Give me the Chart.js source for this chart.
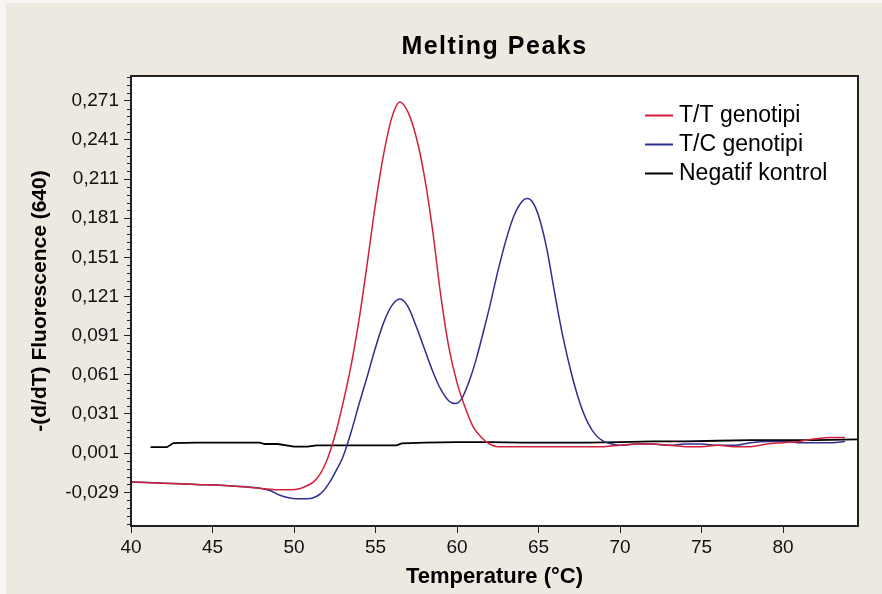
<!DOCTYPE html>
<html>
<head>
<meta charset="utf-8">
<title>Melting Peaks</title>
<script src="https://cdn.jsdelivr.net/npm/chart.js@4.4.1/dist/chart.umd.min.js"></script>
<style>
  html, body { margin: 0; padding: 0; background: #EDE8E0; }
  canvas { display: block; }
</style>
</head>
<body>
<canvas id="meltChart" width="882" height="594"></canvas>
<script>
// T/T genotipi (kırmızı)
const ttTemp = [40, 42, 44, 46, 48, 49, 49.8, 50.4, 50.8, 51.2, 51.6, 52.0, 52.5, 53.0, 53.5, 54.0, 54.5, 55.0, 55.5, 56.0,
  56.5, 57.0, 57.5, 58.0, 58.5, 59.0, 59.5, 60.0, 60.5, 61.0, 61.5, 62.0, 62.5, 63,
  65, 67, 69, 70, 71, 72, 73, 74, 75, 76, 77, 78, 79, 80, 81, 82, 83, 83.8];
const ttVal = [-0.021, -0.022, -0.023, -0.024, -0.026, -0.027, -0.027, -0.026, -0.024, -0.021, -0.015, -0.005, 0.014, 0.039, 0.068, 0.104, 0.147, 0.192, 0.230, 0.258,
  0.270, 0.262, 0.243, 0.213, 0.172, 0.122, 0.082, 0.055, 0.036, 0.021, 0.013, 0.008, 0.006, 0.006,
  0.006, 0.006, 0.006, 0.007, 0.008, 0.008, 0.007, 0.006, 0.006, 0.007, 0.006, 0.006, 0.008, 0.009, 0.010, 0.012, 0.013, 0.013];

// T/C genotipi (mavi)
const tcTemp = [40, 42, 44, 46, 48, 48.6, 49.1, 49.6, 50.2, 50.8, 51.4, 51.8, 52.2, 52.6, 53.0, 53.5, 54.0, 54.5, 55.0, 55.5,
  56.0, 56.5, 57.0, 57.5, 58.0, 58.5, 59.0, 59.5, 59.9, 60.3, 60.8, 61.2, 61.6, 62.0, 62.5, 63.0, 63.5, 64.0, 64.3, 64.6,
  65.0, 65.5, 66.0, 66.5, 67.0, 67.5, 68.0, 68.5, 69.0, 69.5, 70, 71, 72, 73, 74, 75, 76,
  77, 78, 79, 80, 81, 82, 83, 83.8];
const tcVal = [-0.021, -0.022, -0.023, -0.024, -0.026, -0.028, -0.031, -0.033, -0.034, -0.034, -0.032, -0.028, -0.021, -0.012, -0.002, 0.017, 0.039, 0.060, 0.082, 0.101,
  0.114, 0.119, 0.113, 0.098, 0.081, 0.064, 0.050, 0.041, 0.039, 0.043, 0.058, 0.074, 0.093, 0.113, 0.140, 0.164, 0.183, 0.194, 0.196, 0.194,
  0.183, 0.158, 0.123, 0.090, 0.063, 0.041, 0.025, 0.015, 0.010, 0.008, 0.007, 0.008, 0.008, 0.007, 0.008, 0.008, 0.007,
  0.007, 0.009, 0.010, 0.010, 0.009, 0.009, 0.009, 0.010];

// Negatif kontrol (siyah)
const ncTemp = [41.2, 42.2, 42.6, 44, 46, 47.9, 48.2, 49, 50, 50.8, 51.4, 53, 55, 56.3, 56.6, 58, 60, 62, 64, 66,
  68, 70, 72, 74, 76, 78, 80, 82, 84.6];
const ncVal = [0.0056, 0.0056, 0.0087, 0.009, 0.009, 0.009, 0.008, 0.008, 0.006, 0.006, 0.007, 0.007, 0.007, 0.007, 0.0085, 0.009, 0.0095, 0.0095, 0.009, 0.009,
  0.009, 0.0095, 0.010, 0.010, 0.0105, 0.011, 0.011, 0.011, 0.0115];

const seriesLabels = ['T/T genotipi', 'T/C genotipi', 'Negatif kontrol'];

const xTicks = [40, 45, 50, 55, 60, 65, 70, 75, 80];
const xTickLabels = ['40', '45', '50', '55', '60', '65', '70', '75', '80'];
const yTicks = [-0.029, 0.001, 0.031, 0.061, 0.091, 0.121, 0.151, 0.181, 0.211, 0.241, 0.271];
const yTickLabels = ['-0,029', '0,001', '0,031', '0,061', '0,091', '0,121', '0,151', '0,181', '0,211', '0,241', '0,271'];

const FONT = '"Liberation Sans", Arial, sans-serif';

const pares = (xs, ys) => xs.map((x, i) => ({ x: x, y: ys[i] }));

const moldura = {
    id: 'moldura',
    beforeDraw(chart) {
        const { ctx, chartArea: a } = chart;
        ctx.save();
        ctx.fillStyle = '#F7F5F1';
        ctx.fillRect(0, 0, chart.width, chart.height);
        ctx.fillStyle = '#EDE8E0';
        ctx.fillRect(6, 3, chart.width - 6, chart.height - 3);
        ctx.fillStyle = '#FFFFFF';
        ctx.fillRect(a.left, a.top, a.right - a.left, a.bottom - a.top);
        ctx.restore();
    },
    afterDraw(chart) {
        const { ctx, chartArea: a } = chart;
        const y = chart.scales.y;
        ctx.save();

        // ticks menores do eixo y
        ctx.strokeStyle = '#222';
        ctx.lineWidth = 1;
        for (let k = -5; k <= 55; k++) {
            if (k % 5 === 0) continue;
            const v = yTicks[0] + k * 0.006;
            if (v < y.min || v > y.max) continue;
            const py = Math.round(y.getPixelForValue(v)) + 0.5;
            ctx.beginPath();
            ctx.moveTo(a.left - 4, py);
            ctx.lineTo(a.left, py);
            ctx.stroke();
        }

        // moldura da área do gráfico
        ctx.strokeStyle = '#222';
        ctx.lineWidth = 2;
        ctx.strokeRect(a.left, a.top, a.right - a.left, a.bottom - a.top);

        // título
        ctx.fillStyle = '#000';
        ctx.font = 'bold 25px ' + FONT;
        ctx.letterSpacing = '1.5px';
        ctx.textAlign = 'center';
        ctx.textBaseline = 'middle';
        ctx.fillText('Melting Peaks', (a.left + a.right) / 2, 47);
        ctx.letterSpacing = '0px';

        // legenda dentro do gráfico
        ctx.font = '23px ' + FONT;
        ctx.textAlign = 'left';
        ctx.textBaseline = 'alphabetic';
        chart.data.datasets.forEach((ds, i) => {
            const base = a.top + 46 + i * 29;
            ctx.strokeStyle = ds.borderColor;
            ctx.lineWidth = 2;
            ctx.beginPath();
            ctx.moveTo(a.right - 213, base - 6.5);
            ctx.lineTo(a.right - 185, base - 6.5);
            ctx.stroke();
            ctx.fillStyle = '#000';
            ctx.fillText(ds.label, a.right - 179, base);
        });
        ctx.restore();
    }
};

const ctx = document.getElementById('meltChart').getContext('2d');

new Chart(ctx, {
    type: 'line',
    data: {
        datasets: [
            {
                label: seriesLabels[0],
                data: pares(ttTemp, ttVal),
                borderColor: '#D0203A',
                borderWidth: 1.5,
                cubicInterpolationMode: 'monotone'
            },
            {
                label: seriesLabels[1],
                data: pares(tcTemp, tcVal),
                borderColor: '#2E2E8C',
                borderWidth: 1.5,
                cubicInterpolationMode: 'monotone'
            },
            {
                label: seriesLabels[2],
                data: pares(ncTemp, ncVal),
                borderColor: '#000000',
                borderWidth: 1.8,
                tension: 0
            }
        ]
    },
    options: {
        responsive: false,
        animation: false,
        layout: { padding: { top: 76, right: 24, left: 0, bottom: 0 } },
        elements: { point: { radius: 0 } },
        plugins: {
            legend: { display: false },
            title: { display: false },
            tooltip: { enabled: false }
        },
        scales: {
            x: {
                type: 'linear',
                min: 40,
                max: 84.6,
                afterBuildTicks: s => { s.ticks = xTicks.map(v => ({ value: v })); },
                afterFit: s => { s.height = 68; },
                grid: { drawOnChartArea: false, tickLength: 7, color: '#222' },
                border: { display: true, color: '#222', width: 2 },
                ticks: {
                    autoSkip: false,
                    maxRotation: 0,
                    padding: 3,
                    color: '#111',
                    font: { family: FONT, size: 19 },
                    callback: (v, i) => xTickLabels[i]
                },
                title: {
                    display: true,
                    text: 'Temperature (°C)',
                    color: '#000',
                    font: { family: FONT, size: 22, weight: 'bold' },
                    padding: { top: 0, bottom: 4 }
                }
            },
            y: {
                type: 'linear',
                min: -0.0548,
                max: 0.2899,
                afterBuildTicks: s => { s.ticks = yTicks.map(v => ({ value: v })); },
                afterFit: s => { s.width = 131; },
                grid: { drawOnChartArea: false, tickLength: 7, color: '#222' },
                border: { display: true, color: '#222', width: 2 },
                ticks: {
                    autoSkip: false,
                    padding: 5,
                    color: '#111',
                    font: { family: FONT, size: 19 },
                    callback: (v, i) => yTickLabels[i]
                },
                title: {
                    display: true,
                    text: '-(d/dT) Fluorescence (640)',
                    color: '#000',
                    font: { family: FONT, size: 21, weight: 'bold' },
                    padding: { top: 28, bottom: 0 }
                }
            }
        }
    },
    plugins: [moldura]
});
</script>
</body>
</html>
